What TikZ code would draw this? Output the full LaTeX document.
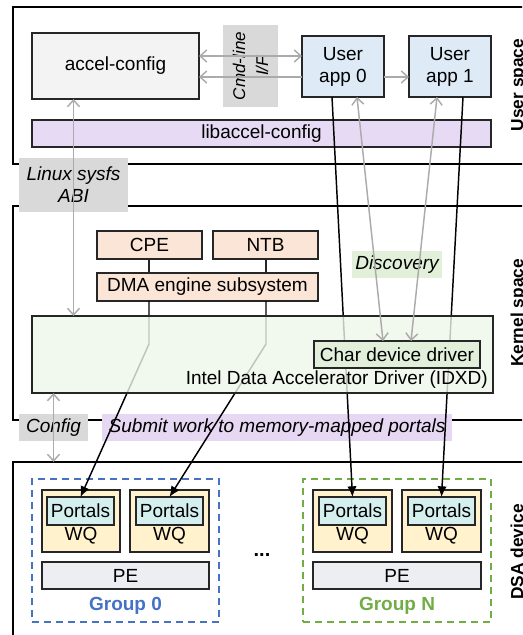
\documentclass[tikz,border=0pt]{standalone}
\usepackage{fontspec}
\setmainfont{Liberation Sans}
\usetikzlibrary{calc,arrows.meta}

\definecolor{cfggray}{HTML}{F3F3F3}
\definecolor{appblue}{HTML}{DEEBF7}
\definecolor{libpurple}{HTML}{E7DAF4}
\definecolor{lblgray}{HTML}{D9D9D9}
\definecolor{peach}{HTML}{FBE5D6}
\definecolor{idxdgreen}{HTML}{EEF6E9}
\definecolor{chargreen}{HTML}{E2EFDA}
\definecolor{discgreen}{HTML}{E2F0D9}
\definecolor{subpurple}{HTML}{E6D7F3}
\definecolor{wqyellow}{HTML}{FFF2CC}
\definecolor{portalcyan}{HTML}{D5EFEF}
\definecolor{pegray}{HTML}{EDEEF2}
\definecolor{grpblue}{HTML}{4472C4}
\definecolor{grpgreen}{HTML}{70AD47}
\definecolor{arrowgray}{HTML}{ABABAB}

\begin{document}
\begin{tikzpicture}[x=0.75pt,y=-0.75pt,
  every node/.style={font=\fontsize{14.25}{16.5}\selectfont},
  sz/.style 2 args={minimum width=#1*0.75pt,minimum height=#2*0.75pt},
  box/.style={draw=black!85,line width=1pt,inner sep=0pt,outer sep=0pt,align=center},
  tier/.style={draw=black,line width=1.5pt,inner sep=0pt,outer sep=0pt},
  spacelabel/.style={rotate=90,anchor=base,inner sep=0pt,font=\fontsize{13}{15}\selectfont\bfseries},
  tag/.style={fill=#1,inner sep=0pt,outer sep=0pt,align=center,font=\fontsize{14.25}{16.5}\selectfont\itshape},
  group/.style={draw=#1,line width=1.1pt,dash pattern=on 5.25pt off 3.75pt,inner sep=0pt,outer sep=0pt},
  garrow/.style={draw=arrowgray,line width=1.1pt,>={Straight Barb[length=5pt,width=9pt]}},
  barrow/.style={draw=black,line width=1.1pt,>={Latex[length=8pt,width=7pt]}}]
  \useasboundingbox (0,0) rectangle (522,635);
  \clip (0,0) rectangle (522,635);

  \node[tier,sz={532}{157}] (user) at (279,85.5) {};
  \node[tier,sz={532}{214}] (kernel) at (279,313) {};
  \node[tier,sz={532}{183}] (dsa) at (279,553.5) {};
  \node[spacelabel] (userlbl) at (523,85) {User space};
  \node[spacelabel] (kernellbl) at (523,313) {Kernel space};
  \node[spacelabel] (dsalbl) at (523,552) {DSA device};

  \node[box,fill=cfggray,sz={167}{66}] (accel) at (115.5,66) {accel-config};
  \node[tag=lblgray,rotate=90,sz={82}{55},font=\fontsize{12.75}{17.25}\selectfont\itshape] (cmdif) at (250.5,66) {Cmd-line\\I/F};
  \node[box,fill=appblue,sz={82}{61}] (app0) at (343,66.5) {User\\app 0};
  \node[box,fill=appblue,sz={82}{61}] (app1) at (450,66.5) {User\\app 1};
  \node[box,fill=libpurple,sz={459}{27}] (lib) at (261.5,133.5) {libaccel-config};

  \node[tag=lblgray,sz={109}{54}] (sysfs) at (73.5,185) {Linux sysfs\\ABI};
  \node[tag=lblgray,sz={69}{27}] (config) at (53.5,427.5) {Config};
  \node[tag=subpurple,sz={350}{27}] (submit) at (277,427.5) {Submit work to memory-mapped portals};

  \node[box,fill=peach,sz={105}{28}] (cpe) at (149.5,245) {CPE};
  \node[box,fill=peach,sz={105}{28}] (ntb) at (265.5,245) {NTB};
  \node[box,fill=peach,sz={221}{28}] (dma) at (207.5,287) {DMA engine subsystem};
  \coordinate (k0) at (149,344);
  \coordinate (k1) at (266,344);
  \draw[black!85,line width=1pt] (cpe.south -| k0) -- (dma.north -| k0);
  \draw[black!85,line width=1pt] (ntb.south -| k1) -- (dma.north -| k1);

  \node[group=grpblue,sz={187}{143}] (grp0) at (125.5,550.5) {};
  \node[group=grpgreen,sz={188}{143}] (grpn) at (397,550.5) {};
  \node[box,fill=wqyellow,sz={78}{62}] (wq00) at (81,521) {};
  \node[box,fill=wqyellow,sz={79}{62}] (wq01) at (169.5,521) {};
  \node[box,fill=wqyellow,sz={79}{62}] (wqn0) at (352.5,521) {};
  \node[box,fill=wqyellow,sz={79}{62}] (wqn1) at (441.5,521) {};
  \node[box,fill=portalcyan,sz={67}{28}] (p00) at (80.5,511) {Portals};
  \node[box,fill=portalcyan,sz={67}{28}] (p01) at (169.5,511) {Portals};
  \node[box,fill=portalcyan,sz={67}{28}] (pn0) at (352.5,511) {Portals};
  \node[box,fill=portalcyan,sz={67}{28}] (pn1) at (441.5,511) {Portals};
  \node[anchor=base,inner sep=0pt] (wq00txt) at (81,540) {WQ};
  \node[anchor=base,inner sep=0pt] (wq01txt) at (169.5,540) {WQ};
  \node[anchor=base,inner sep=0pt] (wqn0txt) at (352.5,540) {WQ};
  \node[anchor=base,inner sep=0pt] (wqn1txt) at (441.5,540) {WQ};
  \node[box,fill=pegray,sz={167}{27}] (pe0) at (125.5,575.5) {PE};
  \node[box,fill=pegray,sz={168}{27}] (pen) at (397,575.5) {PE};
  \node[text=grpblue,font=\fontsize{14.25}{16.5}\selectfont\bfseries] (grp0name) at (125.5,606) {Group 0};
  \node[text=grpgreen,font=\fontsize{14.25}{16.5}\selectfont\bfseries] (grpnname) at (397,606) {Group N};
  \node[anchor=base,inner sep=0pt,font=\fontsize{15}{16.5}\selectfont\bfseries] (dots) at (262,556) {...};

  \draw[barrow,->] (dma.south -| k0) -- (k0) -- (p00.north);
  \draw[barrow,->] (dma.south -| k1) -- (k1) -- (p01.north);
  \draw[barrow,->] ($(app0.south)+(-11,0)$) -- (pn0.north);
  \draw[barrow,->] ($(app1.south)+(13,0)$) -- (pn1.north);

  \node[box,fill=idxdgreen,fill opacity=0.8,text opacity=1,sz={461}{77}] (idxd) at (262.5,354.5) {};
  \node[anchor=base east,inner sep=0pt] (idxdname) at (488,384) {Intel Data Accelerator Driver (IDXD)};
  \node[box,fill=chargreen,sz={166}{27}] (chardrv) at (397,354.5) {Char device driver};
  \node[tag=discgreen,sz={90}{27}] (disc) at (397,264.5) {Discovery};

  \draw[garrow,<->] ($(accel.east)+(0,-10)$) -- ($(app0.west)+(0,-10.5)$);
  \draw[garrow,->] ($(app0.west)+(0,10.5)$) -- ($(accel.east)+(0,11)$);
  \draw[garrow,->] ($(app0.east)+(0,10.5)$) -- ($(app1.west)+(0,10.5)$);
  \draw[garrow,<->] (accel.south -| sysfs) -- (idxd.north -| sysfs);
  \draw[garrow,<->] ($(app0.south)+(14,0)$) -- ($(chardrv.north)+(-14,0)$);
  \draw[garrow,<->] ($(app1.south)+(-13,0)$) -- ($(chardrv.north)+(14,0)$);
  \draw[garrow,<->] (idxd.south -| config) -- (dsa.north -| config);
\end{tikzpicture}
\end{document}
